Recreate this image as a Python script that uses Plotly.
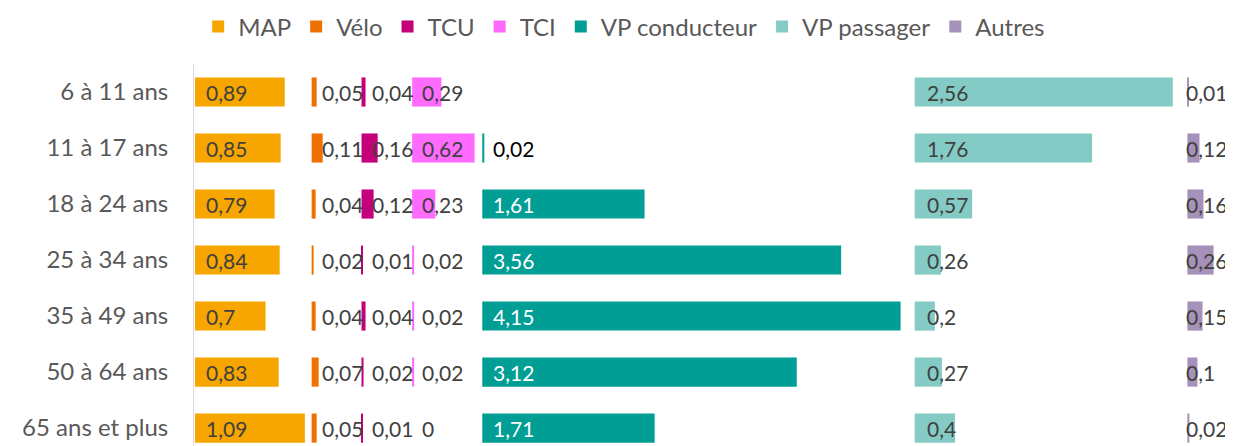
import plotly.graph_objects as go

categories = ["6 à 11 ans", "11 à 17 ans", "18 à 24 ans", "25 à 34 ans",
              "35 à 49 ans", "50 à 64 ans", "65 ans et plus"]

map_vals = [0.89, 0.85, 0.79, 0.84, 0.70, 0.83, 1.09]
velo_vals = [0.05, 0.11, 0.04, 0.02, 0.04, 0.07, 0.05]
tcu_vals = [0.04, 0.16, 0.12, 0.01, 0.04, 0.02, 0.01]
tci_vals = [0.29, 0.62, 0.23, 0.02, 0.02, 0.02, 0.00]
vpc_vals = [None, 0.02, 1.61, 3.56, 4.15, 3.12, 1.71]
vpp_vals = [2.56, 1.76, 0.57, 0.26, 0.20, 0.27, 0.40]
autres_vals = [0.01, 0.12, 0.16, 0.26, 0.15, 0.10, 0.02]

series_names = ["MAP", "Vélo", "TCU", "TCI", "VP conducteur", "VP passager", "Autres"]
series_values = [map_vals, velo_vals, tcu_vals, tci_vals, vpc_vals, vpp_vals, autres_vals]

# layout: start position of each panel along the shared x scale
panel_offsets = [0.0, 1.157, 1.652, 2.154, 2.85, 7.14, 9.845]
colors = ["#F7A600", "#EE7203", "#C4007A", "#FF6BFF", "#009E94", "#84CBC5", "#A591B9"]
label_colors = ["#404040", "#404040", "#404040", "#404040", "#FFFFFF", "#404040", "#404040"]
label_shift = [10, 9, 9, 9, 10, 11, -2]

def fmt(v):
    if v is None:
        return ""
    s = ("%.2f" % v).rstrip("0").rstrip(".")
    return s.replace(".", ",")

fig = go.Figure()
annotations = []
for name, vals, off, col, lcol, sh in zip(series_names, series_values, panel_offsets,
                                           colors, label_colors, label_shift):
    fig.add_trace(go.Bar(
        name=name, y=categories, x=vals, base=[off] * len(vals),
        orientation="h", width=0.52,
        marker=dict(color=col, line=dict(width=0)),
        hoverinfo="skip",
    ))
    for cat, v in zip(categories, vals):
        if v is None:
            continue
        c = lcol
        if name == "VP conducteur" and v < 0.1:
            c = "#000000"
        annotations.append(dict(
            x=off, y=cat, xref="x", yref="y", text=fmt(v), showarrow=False,
            xanchor="left", yanchor="middle", xshift=sh, borderpad=0,
            font=dict(family="Lato", size=21, color=c),
        ))

# the page body adds an 8px margin around the figure
fig_w, fig_h = 1225, 438
px_per_unit = 100.8
plot_left = 186
plot_top = 56
plot_height = fig_h - plot_top
plot_width = fig_w - plot_left
x0 = -1.0 / px_per_unit
x1 = x0 + plot_width / px_per_unit
legend_center_y = 19.0  # px from figure top
legend_y = 1 + (plot_top - legend_center_y) / plot_height

fig.update_layout(
    width=fig_w, height=fig_h,
    margin=dict(l=plot_left, r=0, t=plot_top, b=0, autoexpand=False),
    paper_bgcolor="white", plot_bgcolor="white",
    barmode="overlay",
    showlegend=True,
    legend=dict(orientation="h", x=0.503, xref="container", xanchor="center",
                y=legend_y, yref="paper", yanchor="middle",
                font=dict(family="Lato", size=24, color="#595959"),
                itemwidth=30, tracegroupgap=0, bgcolor="rgba(0,0,0,0)"),
    xaxis=dict(range=[x0, x1], showgrid=False, zeroline=False,
               showticklabels=False, ticks="", showline=False),
    yaxis=dict(range=[6.32, -0.5], showgrid=False, zeroline=False,
               showline=True, linecolor="#D9D9D9", linewidth=1,
               ticks="", ticklabelstandoff=20, automargin=False,
               tickfont=dict(family="Lato", size=24, color="#595959")),
    annotations=annotations,
)

fig.write_html("out.html")
